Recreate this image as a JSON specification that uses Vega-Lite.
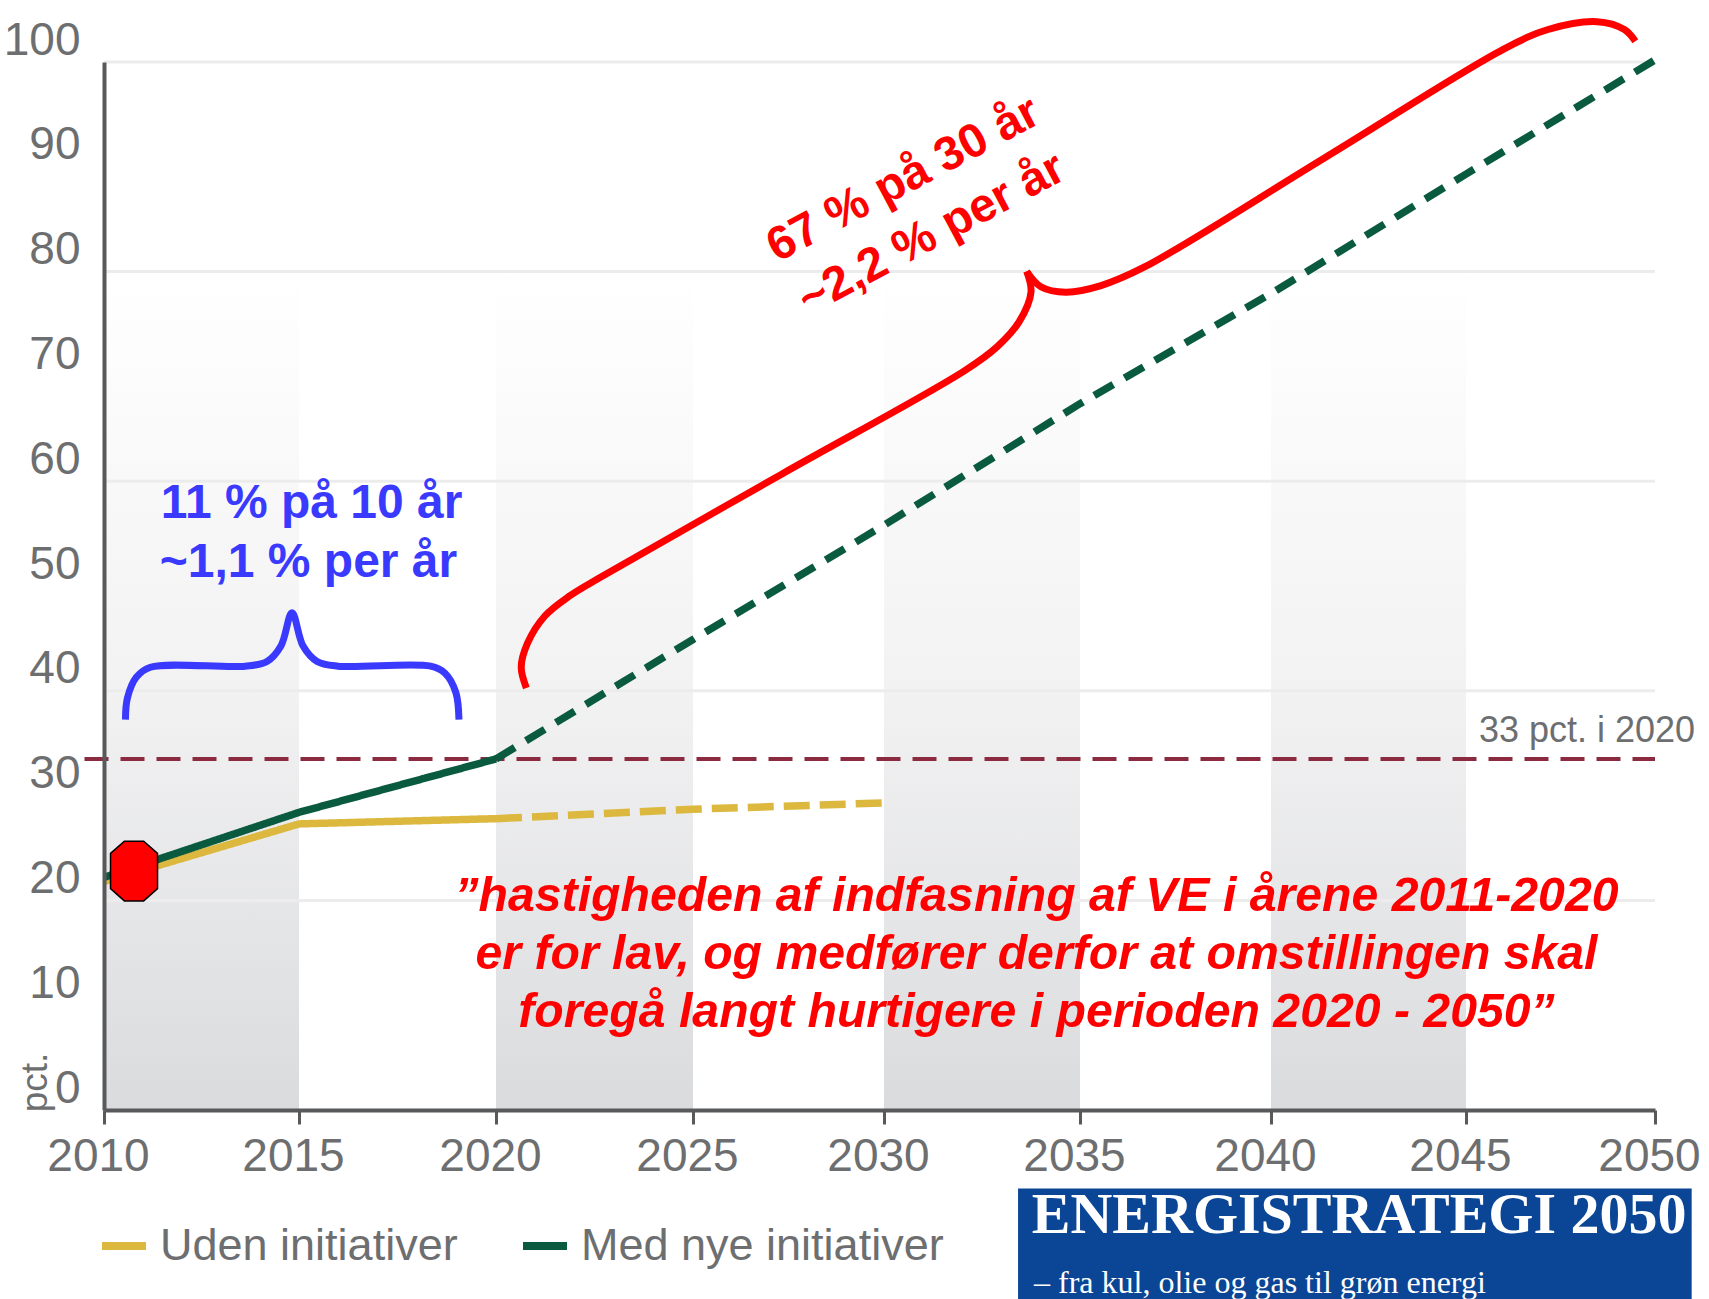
{
 "$schema":"https://vega.github.io/schema/vega-lite/v6.json",
 "autosize":"none",
 "width":1551,"height":1048,
 "padding":{"left":104,"top":62,"right":54,"bottom":189},
 "background":"white",
 "config":{"view":{"stroke":null},"font":"Liberation Sans"},
 "datasets":{
  "bands":[{"start":2010,"end":2015,"top":80,"base":0},{"start":2020,"end":2025,"top":80,"base":0},{"start":2030,"end":2035,"top":80,"base":0},{"start":2040,"end":2045,"top":80,"base":0}],
  "grid":[{"value":20},{"value":40},{"value":60},{"value":80},{"value":100}],
  "series":[
   {"year":2010,"value":21.8,"series":"Uden initiativer","dash":"solid"},
   {"year":2015,"value":27.3,"series":"Uden initiativer","dash":"solid"},
   {"year":2020,"value":27.8,"series":"Uden initiativer","dash":"solid"},
   {"year":2020,"value":27.8,"series":"Uden initiativer","dash":"longdash"},
   {"year":2025,"value":28.7,"series":"Uden initiativer","dash":"longdash"},
   {"year":2030,"value":29.3,"series":"Uden initiativer","dash":"longdash"},
   {"year":2010,"value":22.2,"series":"Med nye initiativer","dash":"solid"},
   {"year":2015,"value":28.4,"series":"Med nye initiativer","dash":"solid"},
   {"year":2020,"value":33.5,"series":"Med nye initiativer","dash":"solid"},
   {"year":2020,"value":33.5,"series":"Med nye initiativer","dash":"dash"},
   {"year":2025,"value":44.9,"series":"Med nye initiativer","dash":"dash"},
   {"year":2030,"value":55.8,"series":"Med nye initiativer","dash":"dash"},
   {"year":2035,"value":67.4,"series":"Med nye initiativer","dash":"dash"},
   {"year":2040,"value":77.9,"series":"Med nye initiativer","dash":"dash"},
   {"year":2045,"value":89.3,"series":"Med nye initiativer","dash":"dash"},
   {"year":2050,"value":100.2,"series":"Med nye initiativer","dash":"dash"}
  ],
  "target":[{"year":2009.5,"value":33.5},{"year":2050,"value":33.5}],
  "blue":[
   {"i":1,"year":2010.55,"value":37.25},{"i":2,"year":2010.6,"value":39.3},{"i":3,"year":2010.83,"value":41.3},{"i":4,"year":2011.19,"value":42.25},
   {"i":5,"year":2013.62,"value":42.35},{"i":6,"year":2014.18,"value":42.8},{"i":7,"year":2014.54,"value":44.3},{"i":8,"year":2014.82,"value":47.45},
   {"i":9,"year":2015.1,"value":44.3},{"i":10,"year":2015.46,"value":42.8},{"i":11,"year":2015.99,"value":42.35},{"i":12,"year":2018.34,"value":42.35},
   {"i":13,"year":2018.7,"value":41.7},{"i":14,"year":2018.98,"value":39.85},{"i":15,"year":2019.06,"value":37.25}
  ],
  "red":[
   {"part":"a","i":1,"year":2020.77,"value":40.27},{"part":"a","i":2,"year":2020.64,"value":42.25},{"part":"a","i":3,"year":2020.8,"value":44.54},
   {"part":"a","i":4,"year":2021.24,"value":47.14},{"part":"a","i":5,"year":2021.85,"value":49.0},{"part":"a","i":6,"year":2022.63,"value":50.78},
   {"part":"a","i":7,"year":2027.32,"value":60.67},{"part":"a","i":8,"year":2032.06,"value":70.55},{"part":"a","i":9,"year":2032.89,"value":72.84},
   {"part":"a","i":10,"year":2033.45,"value":75.23},{"part":"a","i":11,"year":2033.75,"value":78.04},{"part":"a","i":12,"year":2033.64,"value":80.02},
   {"part":"b","i":1,"year":2033.64,"value":80.02},{"part":"b","i":2,"year":2034.0,"value":78.56},{"part":"b","i":3,"year":2034.64,"value":78.04},
   {"part":"b","i":4,"year":2035.55,"value":78.67},{"part":"b","i":5,"year":2036.69,"value":80.44},{"part":"b","i":6,"year":2041.37,"value":90.84},
   {"part":"b","i":7,"year":2046.01,"value":101.25},{"part":"b","i":8,"year":2047.17,"value":103.1},{"part":"b","i":9,"year":2048.47,"value":103.85},
   {"part":"b","i":10,"year":2049.19,"value":103.1},{"part":"b","i":11,"year":2049.48,"value":101.98}
  ]
 },
 "layer":[
  {"data":{"name":"bands"},
   "mark":{"type":"rect","fill":{"gradient":"linear","x1":0,"y1":1,"x2":0,"y2":0,"stops":[{"offset":0,"color":"#dadbdd"},{"offset":0.5,"color":"#f2f2f3"},{"offset":1,"color":"#ffffff"}]}},
   "encoding":{
    "x":{"field":"start","type":"quantitative","title":null,
     "scale":{"domain":[2010,2015,2020,2025,2030,2035,2040,2045,2050],"range":[0,195,392,589,780,976,1167,1362,1551]},
     "axis":{"values":[2010,2015,2020,2025,2030,2035,2040,2045,2050],"format":"d","grid":false,"zindex":1,"labelFontSize":46,"labelColor":"#6d6e70","labelOffset":-6,"labelPadding":10,"labelOverlap":false,"labelFlush":false,"tickSize":14,"tickWidth":3,"tickColor":"#58595b","domainColor":"#58595b","domainWidth":4}},
    "x2":{"field":"end"},
    "y":{"field":"top","type":"quantitative","title":"pct.",
     "scale":{"domain":[0,100],"nice":false},
     "axis":{"values":[0,10,20,30,40,50,60,70,80,90,100],"grid":false,"zindex":1,"labelFontSize":46,"labelColor":"#6d6e70","labelOffset":-22,"labelPadding":24,"labelOverlap":false,"ticks":false,"domainColor":"#58595b","domainWidth":4,"titleFontSize":37,"titleFontWeight":"normal","titleColor":"#6d6e70","titleX":-50,"titleY":1020,"titleAngle":-90}},
    "y2":{"field":"base"}
   }},
  {"data":{"name":"grid"},"mark":{"type":"rule","color":"#ececec","strokeWidth":3},
   "encoding":{"y":{"field":"value","type":"quantitative"}}},
  {"data":{"name":"target"},"mark":{"type":"line","color":"#8c2a40","strokeWidth":4,"strokeDash":[24,12]},
   "encoding":{"x":{"field":"year","type":"quantitative"},"y":{"field":"value","type":"quantitative"}}},
  {"data":{"name":"series"},"mark":{"type":"line","strokeWidth":7.5},
   "encoding":{
    "x":{"field":"year","type":"quantitative"},"y":{"field":"value","type":"quantitative"},
    "color":{"field":"series","type":"nominal","sort":null,
     "scale":{"domain":["Uden initiativer","Med nye initiativer"],"range":["#dcb83f","#0a5a3f"]},
     "legend":{"title":null,"orient":"none","legendX":-6,"legendY":1154,"direction":"horizontal","columns":2,"symbolType":"stroke","symbolSize":1936,"symbolStrokeWidth":8,"symbolDash":[1,0],"labelFontSize":45,"labelColor":"#6d6e70","labelOffset":10,"columnPadding":61,"labelLimit":500,"symbolLimit":0,"clipHeight":60}},
    "strokeDash":{"field":"dash","type":"nominal","scale":{"domain":["solid","dash","longdash"],"range":[[1,0],[22,13],[26,10]]},"legend":null}
   }},
  {"data":{"name":"blue"},"mark":{"type":"line","color":"#3a3aff","strokeWidth":7,"interpolate":"catmull-rom"},
   "encoding":{"x":{"field":"year","type":"quantitative"},"y":{"field":"value","type":"quantitative"},"order":{"field":"i","type":"quantitative"}}},
  {"data":{"name":"red"},"mark":{"type":"line","color":"#ff0000","strokeWidth":7,"interpolate":"catmull-rom"},
   "encoding":{"x":{"field":"year","type":"quantitative"},"y":{"field":"value","type":"quantitative"},"order":{"field":"i","type":"quantitative"},"detail":{"field":"part"}}},
  {"data":{"values":[{"year":2010.77,"value":22.8}]},
   "mark":{"type":"point","filled":true,"fill":"#ff0000","fillOpacity":1,"stroke":"#000000","strokeWidth":1.5,"strokeOpacity":1,"size":2209,"shape":"M -0.41 -1.27 L 0.41 -1.27 L 1 -0.75 L 1 0.75 L 0.41 1.27 L -0.41 1.27 L -1 0.75 L -1 -0.75 Z"},
   "encoding":{"x":{"field":"year","type":"quantitative"},"y":{"field":"value","type":"quantitative"}}},
  {"data":{"values":[{"year":2033.42,"year2":2050.97,"value":-7.49,"value2":-18.1}]},
   "mark":{"type":"rect","color":"#0b4595"},
   "encoding":{"x":{"field":"year","type":"quantitative"},"x2":{"field":"year2"},"y":{"field":"value","type":"quantitative"},"y2":{"field":"value2"}}},
  {"data":{"values":[{"year":2015.32,"value":57.86,"t":"11 % på 10 år"},{"year":2015.24,"value":52.24,"t":"~1,1 % per år"}]},
   "mark":{"type":"text","fontSize":48,"fontWeight":"bold","color":"#3a3aff","align":"center","baseline":"middle"},
   "encoding":{"x":{"field":"year","type":"quantitative"},"y":{"field":"value","type":"quantitative"},"text":{"field":"t"}}},
  {"data":{"values":[{"year":2030.5,"value":88.76,"t":"67 % på 30 år"},{"year":2031.22,"value":83.56,"t":"~2,2 % per år"}]},
   "mark":{"type":"text","fontSize":47.5,"fontWeight":"bold","color":"#ff0000","align":"center","baseline":"middle","angle":-28},
   "encoding":{"x":{"field":"year","type":"quantitative"},"y":{"field":"value","type":"quantitative"},"text":{"field":"t"}}},
  {"data":{"values":[{"year":2033.89,"value":20.3,"t":"”hastigheden af indfasning af VE i årene 2011-2020"},{"year":2033.89,"value":14.8,"t":"er for lav, og medfører derfor at omstillingen skal"},{"year":2033.89,"value":9.3,"t":"foregå langt hurtigere i perioden 2020 - 2050”"}]},
   "mark":{"type":"text","fontSize":48.2,"fontWeight":"bold","fontStyle":"italic","color":"#ff0000","align":"center","baseline":"middle"},
   "encoding":{"x":{"field":"year","type":"quantitative"},"y":{"field":"value","type":"quantitative"},"text":{"field":"t"}}},
  {"data":{"values":[{"year":2048.2,"value":36.2,"t":"33 pct. i 2020"}]},
   "mark":{"type":"text","fontSize":36,"color":"#6d6e70","align":"center","baseline":"middle"},
   "encoding":{"x":{"field":"year","type":"quantitative"},"y":{"field":"value","type":"quantitative"},"text":{"field":"t"}}},
  {"data":{"values":[{"year":2042.26,"value":-10.1,"t":"ENERGISTRATEGI 2050"}]},
   "mark":{"type":"text","font":"Liberation Serif","fontWeight":"bold","fontSize":58,"color":"#ffffff","align":"center","baseline":"middle"},
   "encoding":{"x":{"field":"year","type":"quantitative"},"y":{"field":"value","type":"quantitative"},"text":{"field":"t"}}},
  {"data":{"values":[{"year":2039.71,"value":-16.55,"t":"– fra kul, olie og gas til grøn energi"}]},
   "mark":{"type":"text","font":"Liberation Serif","fontSize":32,"color":"#ffffff","align":"center","baseline":"middle"},
   "encoding":{"x":{"field":"year","type":"quantitative"},"y":{"field":"value","type":"quantitative"},"text":{"field":"t"}}}
 ]
}
